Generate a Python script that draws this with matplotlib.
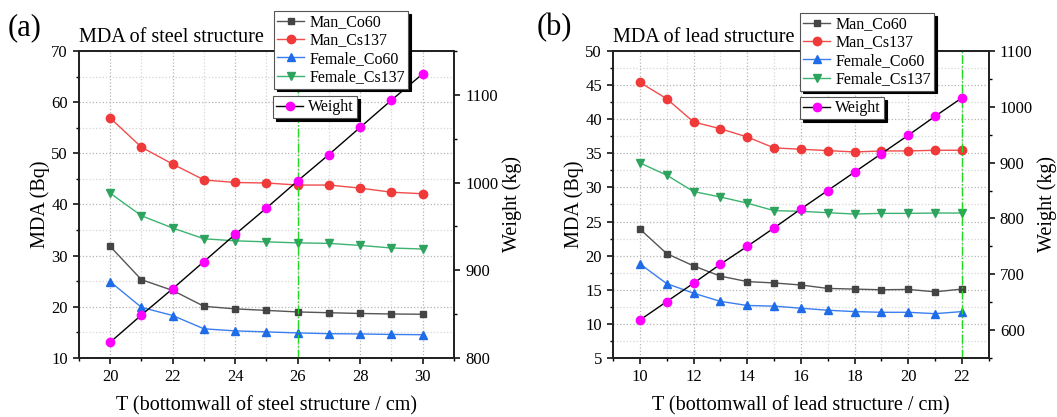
import numpy as np
import matplotlib
matplotlib.use("Agg")
import matplotlib.pyplot as plt
from matplotlib.ticker import MultipleLocator

plt.rcParams['font.family'] = ['Liberation Serif', 'DejaVu Serif']

# ---- panel (a): steel structure ----
t_steel = [20, 21, 22, 23, 24, 25, 26, 27, 28, 29, 30]
steel_man_co60 = [31.8, 25.3, 23.2, 20.1, 19.6, 19.3, 19.0, 18.85, 18.7, 18.6, 18.55]
steel_man_cs137 = [56.9, 51.2, 47.9, 44.8, 44.3, 44.2, 43.8, 43.8, 43.2, 42.4, 42.1]
steel_fem_co60 = [24.9, 19.9, 18.3, 15.7, 15.3, 15.1, 14.9, 14.75, 14.7, 14.6, 14.55]
steel_fem_cs137 = [42.2, 37.8, 35.4, 33.3, 32.9, 32.7, 32.5, 32.4, 32.0, 31.5, 31.3]
steel_weight = [818, 849, 879, 910, 941, 971, 1002, 1032, 1063, 1094, 1124]
steel_mark = 26

# ---- panel (b): lead structure ----
t_lead = [10, 11, 12, 13, 14, 15, 16, 17, 18, 19, 20, 21, 22]
lead_man_co60 = [23.9, 20.3, 18.5, 17.0, 16.2, 16.0, 15.7, 15.2, 15.1, 15.0, 15.05, 14.7, 15.1]
lead_man_cs137 = [45.4, 43.0, 39.6, 38.6, 37.4, 35.8, 35.6, 35.4, 35.2, 35.35, 35.35, 35.45, 35.45]
lead_fem_co60 = [18.8, 15.9, 14.5, 13.3, 12.7, 12.6, 12.3, 12.0, 11.8, 11.7, 11.7, 11.5, 11.8]
lead_fem_cs137 = [33.6, 31.8, 29.4, 28.6, 27.7, 26.6, 26.5, 26.3, 26.1, 26.2, 26.2, 26.25, 26.25]
lead_weight = [618, 651, 684, 718, 750, 783, 817, 850, 883, 916, 949, 983, 1016]
lead_mark = 22

labels = ['Man_Co60', 'Man_Cs137', 'Female_Co60', 'Female_Cs137']
line_cols = ['#555555', '#f24c4c', '#3a7ff0', '#3cb371']
mark_cols = ['#444444', '#f03a3a', '#1f6ce8', '#2ea35e']
markers = ['s', 'o', '^', 'v']
msizes = [5, 6, 6, 6]

fig = plt.figure(figsize=(10.57, 4.17), dpi=100)


def panel(rect, t, series, weight, mark, xlim, ylim, ystep, wlim, wticks,
          title, tag, xlabel, leg1_xy, leg2_xy, tag_x):
    ax = fig.add_axes(rect)
    for i, ys in enumerate(series):
        ax.plot(t, ys, color=line_cols[i], lw=1.0, marker=markers[i], ms=msizes[i],
                mfc=mark_cols[i], mec=mark_cols[i], label=labels[i], zorder=3)
    ax.axvline(mark, color='#1fdc1f', lw=1.0, ls='-.', zorder=4)
    ax.set_xlim(*xlim)
    ax.set_ylim(*ylim)
    ax.xaxis.set_major_locator(MultipleLocator(2))
    ax.xaxis.set_minor_locator(MultipleLocator(1))
    ax.yaxis.set_major_locator(MultipleLocator(ystep))
    ax.yaxis.set_minor_locator(MultipleLocator(ystep / 2))
    ax.grid(which='major', color='#b5b5b5', ls=':', lw=0.9)
    ax.grid(which='minor', color='#d5d5d5', ls=':', lw=0.9)
    ax.set_axisbelow(True)
    ax.tick_params(which='major', direction='out', length=4, width=1.1, labelsize=12, pad=4)
    ax.tick_params(which='minor', direction='out', length=2.5, width=1.0)
    ax.set_xlabel(xlabel, fontsize=14.5, labelpad=8)
    ax.set_ylabel('MDA (Bq)', fontsize=14.5, labelpad=1)
    ax.text(0.0, 1.03, title, transform=ax.transAxes, fontsize=14.5, va='baseline', ha='left')
    fig.text(tag_x, 0.915, tag, fontsize=22, va='baseline', ha='left')

    ax2 = ax.twinx()
    ax2.plot(t, weight, color='black', lw=1.0, marker='o', ms=6, mfc='#ff00ff', mec='#ff00ff',
             label='Weight', zorder=3)
    ax2.set_ylim(*wlim)
    ax2.set_yticks(wticks)
    ax2.yaxis.set_minor_locator(MultipleLocator(50))
    ax2.tick_params(which='major', direction='out', length=4, width=1.1, labelsize=12, pad=4)
    ax2.tick_params(which='minor', direction='out', length=2.5, width=1.0)
    ax2.set_ylabel('Weight (kg)', fontsize=14.5, labelpad=3)
    for a in (ax, ax2):
        for s in a.spines.values():
            s.set_linewidth(1.3)
            s.set_color('#222222')

    shadow = {'color': 'black', 'alpha': 1.0}
    leg1 = fig.legend(*ax.get_legend_handles_labels(), loc='upper left', bbox_to_anchor=leg1_xy,
                      bbox_transform=fig.transFigure, borderaxespad=0, fontsize=11.5,
                      frameon=True, fancybox=False, shadow=shadow, edgecolor='#555555',
                      framealpha=1, handlelength=1.7, handletextpad=0.3, labelspacing=0.15,
                      borderpad=0.2)
    leg1.get_frame().set_linewidth(0.8)
    leg2 = fig.legend(*ax2.get_legend_handles_labels(), loc='upper left', bbox_to_anchor=leg2_xy,
                      bbox_transform=fig.transFigure, borderaxespad=0, fontsize=11.5,
                      frameon=True, fancybox=False, shadow=shadow, edgecolor='#555555',
                      framealpha=1, handlelength=1.7, handletextpad=0.3, borderpad=0.2)
    leg2.get_frame().set_linewidth(0.8)
    return ax, ax2


panel([0.0747, 0.1415, 0.3548, 0.7362], t_steel,
      [steel_man_co60, steel_man_cs137, steel_fem_co60, steel_fem_cs137],
      steel_weight, steel_mark, (19, 31), (10, 70), 10, (800, 1150), [800, 900, 1000, 1100],
      'MDA of steel structure', '(a)', 'T (bottomwall of steel structure / cm)',
      (0.2592, 0.9736), (0.2583, 0.7698), 0.007)

panel([0.5800, 0.1415, 0.3554, 0.7362], t_lead,
      [lead_man_co60, lead_man_cs137, lead_fem_co60, lead_fem_cs137],
      lead_weight, lead_mark, (9, 23), (5, 50), 5, (550, 1100), [600, 700, 800, 900, 1000, 1100],
      'MDA of lead structure', '(b)', 'T (bottomwall of lead structure / cm)',
      (0.7569, 0.9688), (0.7569, 0.7674), 0.508)

fig.savefig('out.png', dpi=100)
